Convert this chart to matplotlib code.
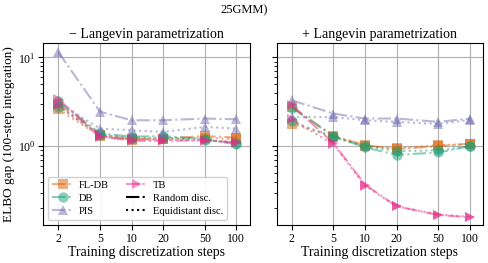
import matplotlib
matplotlib.use("Agg")
import matplotlib.pyplot as plt
from matplotlib.lines import Line2D

STEPS = [2, 5, 10, 20, 50, 100]
METHODS = ["FL-DB", "DB", "PIS", "TB"]
COLORS = {"FL-DB": "#d95f02", "DB": "#1b9e77", "PIS": "#7570b3", "TB": "#e7298a"}
MARKERS = {"FL-DB": "s", "DB": "o", "PIS": "^", "TB": ">"}

# - Langevin parametrization
no_lp_random = {
    "FL-DB": [3.0, 1.35, 1.20, 1.22, 1.30, 1.25],
    "DB": [3.2, 1.40, 1.28, 1.30, 1.20, 1.05],
    "PIS": [11.5, 2.45, 1.96, 1.96, 2.05, 2.01],
    "TB": [3.4, 1.30, 1.15, 1.15, 1.17, 1.10],
}
no_lp_equi = {
    "FL-DB": [2.6, 1.30, 1.18, 1.20, 1.25, 1.20],
    "DB": [2.8, 1.35, 1.25, 1.25, 1.18, 1.08],
    "PIS": [3.1, 1.58, 1.51, 1.45, 1.65, 1.58],
    "TB": [2.9, 1.28, 1.20, 1.18, 1.15, 1.12],
}
# + Langevin parametrization
lp_random = {
    "FL-DB": [2.8, 1.30, 1.03, 0.93, 1.00, 1.07],
    "DB": [2.7, 1.30, 0.97, 0.80, 0.85, 1.00],
    "PIS": [3.29, 2.33, 2.05, 2.05, 1.88, 2.05],
    "TB": [2.9, 1.08, 0.37, 0.21, 0.168, 0.158],
}
lp_equi = {
    "FL-DB": [1.8, 1.28, 1.00, 0.95, 1.03, 1.05],
    "DB": [1.9, 1.27, 1.00, 0.88, 0.90, 1.00],
    "PIS": [2.13, 2.13, 1.96, 1.88, 1.78, 1.98],
    "TB": [2.0, 1.05, 0.36, 0.21, 0.17, 0.16],
}

plt.rcParams.update(
    {
        "font.family": "Liberation Serif",
        "mathtext.fontset": "stix",
        "font.size": 9,
        "axes.titlesize": 10,
        "axes.labelsize": 10,
    }
)

fig, axes = plt.subplots(1, 2, figsize=(4.89, 2.63), dpi=100, sharey=True)
fig.subplots_adjust(left=0.088, right=0.988, top=0.835, bottom=0.145, wspace=0.13)

panels = [
    (axes[0], no_lp_random, no_lp_equi, "\u2212 Langevin parametrization"),
    (axes[1], lp_random, lp_equi, "+ Langevin parametrization"),
]
for ax, rnd, equi, title in panels:
    for m in METHODS:
        ax.plot(STEPS, rnd[m], ls="-.", color=COLORS[m], marker=MARKERS[m],
                ms=7.5, lw=1.5, alpha=0.5, markeredgewidth=0)
        ax.plot(STEPS, equi[m], ls=":", color=COLORS[m], marker=MARKERS[m],
                ms=7.5, lw=1.5, alpha=0.5, markeredgewidth=0)
    ax.set_xscale("log")
    ax.set_yscale("log")
    ax.set_xlim(1.43, 134)
    ax.set_ylim(0.13, 14.4)
    ax.set_xticks(STEPS, [str(s) for s in STEPS])
    ax.xaxis.set_minor_locator(matplotlib.ticker.NullLocator())
    ax.grid(True, which="major", color="#b0b0b0", lw=0.8)
    ax.set_axisbelow(True)
    ax.set_title(title, pad=4)
    ax.set_xlabel("Training discretization steps", labelpad=1)
    ax.tick_params(labelsize=8.5, pad=2)

axes[0].set_ylabel("ELBO gap (100-step integration)", fontsize=9.5, labelpad=2)
fig.suptitle("25GMM)", x=0.5, y=0.985, fontsize=9)

handles = [
    Line2D([], [], color=COLORS[m], marker=MARKERS[m], ls="-.", ms=7.5, lw=1.5,
           alpha=0.5, markeredgewidth=0)
    for m in ["FL-DB", "DB", "PIS", "TB"]
]
handles += [
    Line2D([], [], color="black", ls="-.", lw=1.5),
    Line2D([], [], color="black", ls=":", lw=1.5),
]
labels = ["FL-DB", "DB", "PIS", "TB", "Random disc.", "Equidistant disc."]
axes[0].legend(handles, labels, ncol=2, loc="lower left", fontsize=7.6,
               handlelength=2.1, handletextpad=0.45, columnspacing=1.6,
               labelspacing=0.35, borderpad=0.35, framealpha=0.9)

fig.savefig("out.png", dpi=100)
